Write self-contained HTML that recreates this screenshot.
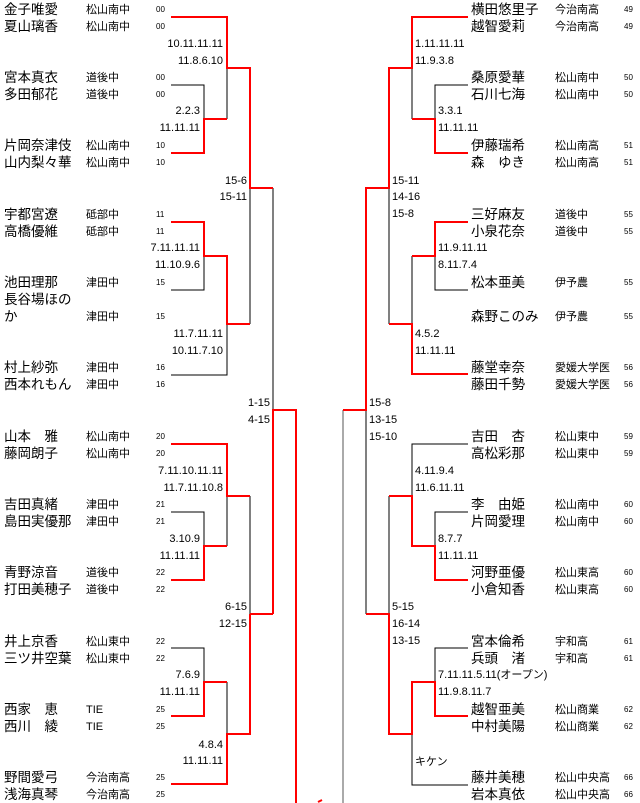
<!DOCTYPE html>
<html><head><meta charset="utf-8"><style>
body{margin:0;background:#fff;}
#w{position:relative;width:640px;height:803px;overflow:hidden;font-family:"Liberation Sans","Noto Sans CJK JP",sans-serif;color:#000;}
.t{position:absolute;white-space:nowrap;line-height:16px;height:16px;}
.n{font-size:13.5px;}
.s{font-size:11px;}
.k{font-size:8px;}
.c{font-size:11px;}
svg{position:absolute;left:0;top:0;}
</style></head><body><div id="w">
<svg width="640" height="803">
<g fill="none" stroke="#000" stroke-width="1">
<polyline points="171,85 204,85 204,119"/>
<polyline points="227,68 227,119"/>
<polyline points="250,188 250,324"/>
<polyline points="273,188 273,410"/>
<polyline points="204,256 204,290 171,290"/>
<polyline points="227,324 227,375 171,375"/>
<polyline points="171,512 204,512 204,546"/>
<polyline points="227,496 227,546"/>
<polyline points="250,496 250,614"/>
<polyline points="171,648 204,648 204,682"/>
<polyline points="227,682 227,734"/>
<polyline points="343,410 343,803" stroke="#555"/>
<polyline points="468,85 435,85 435,119"/>
<polyline points="412,68 412,119"/>
<polyline points="389,188 389,324"/>
<polyline points="435,256 435,290 468,290"/>
<polyline points="412,256 412,324"/>
<polyline points="366,410 366,614"/>
<polyline points="468,444 412,444 412,496"/>
<polyline points="468,512 435,512 435,546"/>
<polyline points="389,496 389,614"/>
<polyline points="468,648 435,648 435,682"/>
<polyline points="412,734 412,785 468,785"/>
</g>
<g fill="none" stroke="#f00" stroke-width="2">
<polyline points="171,17 227,17 227,68 250,68 250,188 273,188"/>
<polyline points="171,153 204,153 204,119 227,119"/>
<polyline points="171,222 204,222 204,256 227,256 227,324 250,324"/>
<polyline points="171,444 227,444 227,496 250,496"/>
<polyline points="171,580 204,580 204,546 227,546"/>
<polyline points="273,614 273,410 296,410 296,803"/>
<polyline points="250,614 273,614"/>
<polyline points="171,716 204,716 204,682 227,682"/>
<polyline points="171,784 227,784 227,734 250,734 250,614"/>
<polyline points="468,17 412,17 412,68 389,68 389,188 366,188 366,410 343,410"/>
<polyline points="468,153 435,153 435,119 412,119"/>
<polyline points="468,222 435,222 435,256 412,256"/>
<polyline points="468,374 412,374 412,324 389,324"/>
<polyline points="389,496 412,496 412,546 435,546 435,580 468,580"/>
<polyline points="366,614 389,614 389,734 412,734 412,682 435,682 435,716 468,716"/>
<polyline points="318,802 322,800"/>
</g>
</svg>

<!-- left names -->
<div class="t n" style="left:4px;top:2px">金子唯愛</div><div class="t s" style="left:86px;top:2px">松山南中</div><div class="t k" style="left:156px;top:2px">00</div>
<div class="t n" style="left:4px;top:19px">夏山璃香</div><div class="t s" style="left:86px;top:19px">松山南中</div><div class="t k" style="left:156px;top:19px">00</div>
<div class="t n" style="left:4px;top:70px">宮本真衣</div><div class="t s" style="left:86px;top:70px">道後中</div><div class="t k" style="left:156px;top:70px">00</div>
<div class="t n" style="left:4px;top:87px">多田郁花</div><div class="t s" style="left:86px;top:87px">道後中</div><div class="t k" style="left:156px;top:87px">00</div>
<div class="t n" style="left:4px;top:138px">片岡奈津伎</div><div class="t s" style="left:86px;top:138px">松山南中</div><div class="t k" style="left:156px;top:138px">10</div>
<div class="t n" style="left:4px;top:155px">山内梨々華</div><div class="t s" style="left:86px;top:155px">松山南中</div><div class="t k" style="left:156px;top:155px">10</div>
<div class="t n" style="left:4px;top:207px">宇都宮遼</div><div class="t s" style="left:86px;top:207px">砥部中</div><div class="t k" style="left:156px;top:207px">11</div>
<div class="t n" style="left:4px;top:224px">高橋優維</div><div class="t s" style="left:86px;top:224px">砥部中</div><div class="t k" style="left:156px;top:224px">11</div>
<div class="t n" style="left:4px;top:275px">池田理那</div><div class="t s" style="left:86px;top:275px">津田中</div><div class="t k" style="left:156px;top:275px">15</div>
<div class="t n" style="left:4px;top:292px">長谷場ほの</div>
<div class="t n" style="left:4px;top:309px">か</div><div class="t s" style="left:86px;top:309px">津田中</div><div class="t k" style="left:156px;top:309px">15</div>
<div class="t n" style="left:4px;top:360px">村上紗弥</div><div class="t s" style="left:86px;top:360px">津田中</div><div class="t k" style="left:156px;top:360px">16</div>
<div class="t n" style="left:4px;top:377px">西本れもん</div><div class="t s" style="left:86px;top:377px">津田中</div><div class="t k" style="left:156px;top:377px">16</div>
<div class="t n" style="left:4px;top:429px">山本　雅</div><div class="t s" style="left:86px;top:429px">松山南中</div><div class="t k" style="left:156px;top:429px">20</div>
<div class="t n" style="left:4px;top:446px">藤岡朗子</div><div class="t s" style="left:86px;top:446px">松山南中</div><div class="t k" style="left:156px;top:446px">20</div>
<div class="t n" style="left:4px;top:497px">吉田真緒</div><div class="t s" style="left:86px;top:497px">津田中</div><div class="t k" style="left:156px;top:497px">21</div>
<div class="t n" style="left:4px;top:514px">島田実優那</div><div class="t s" style="left:86px;top:514px">津田中</div><div class="t k" style="left:156px;top:514px">21</div>
<div class="t n" style="left:4px;top:565px">青野涼音</div><div class="t s" style="left:86px;top:565px">道後中</div><div class="t k" style="left:156px;top:565px">22</div>
<div class="t n" style="left:4px;top:582px">打田美穂子</div><div class="t s" style="left:86px;top:582px">道後中</div><div class="t k" style="left:156px;top:582px">22</div>
<div class="t n" style="left:4px;top:634px">井上京香</div><div class="t s" style="left:86px;top:634px">松山東中</div><div class="t k" style="left:156px;top:634px">22</div>
<div class="t n" style="left:4px;top:651px">三ツ井空葉</div><div class="t s" style="left:86px;top:651px">松山東中</div><div class="t k" style="left:156px;top:651px">22</div>
<div class="t n" style="left:4px;top:702px">西家　恵</div><div class="t s" style="left:86px;top:702px">TIE</div><div class="t k" style="left:156px;top:702px">25</div>
<div class="t n" style="left:4px;top:719px">西川　綾</div><div class="t s" style="left:86px;top:719px">TIE</div><div class="t k" style="left:156px;top:719px">25</div>
<div class="t n" style="left:4px;top:770px">野間愛弓</div><div class="t s" style="left:86px;top:770px">今治南高</div><div class="t k" style="left:156px;top:770px">25</div>
<div class="t n" style="left:4px;top:787px">浅海真琴</div><div class="t s" style="left:86px;top:787px">今治南高</div><div class="t k" style="left:156px;top:787px">25</div>

<!-- left scores -->
<div class="t c" style="right:417px;top:36px">10.11.11.11</div>
<div class="t c" style="right:417px;top:53px">11.8.6.10</div>
<div class="t c" style="right:440px;top:103px">2.2.3</div>
<div class="t c" style="right:440px;top:120px">11.11.11</div>
<div class="t c" style="right:393px;top:173px">15-6</div>
<div class="t c" style="right:393px;top:189px">15-11</div>
<div class="t c" style="right:440px;top:240px">7.11.11.11</div>
<div class="t c" style="right:440px;top:257px">11.10.9.6</div>
<div class="t c" style="right:417px;top:326px">11.7.11.11</div>
<div class="t c" style="right:417px;top:343px">10.11.7.10</div>
<div class="t c" style="right:370px;top:395px">1-15</div>
<div class="t c" style="right:370px;top:412px">4-15</div>
<div class="t c" style="right:417px;top:463px">7.11.10.11.11</div>
<div class="t c" style="right:417px;top:480px">11.7.11.10.8</div>
<div class="t c" style="right:440px;top:531px">3.10.9</div>
<div class="t c" style="right:440px;top:548px">11.11.11</div>
<div class="t c" style="right:393px;top:599px">6-15</div>
<div class="t c" style="right:393px;top:616px">12-15</div>
<div class="t c" style="right:440px;top:667px">7.6.9</div>
<div class="t c" style="right:440px;top:684px">11.11.11</div>
<div class="t c" style="right:417px;top:737px">4.8.4</div>
<div class="t c" style="right:417px;top:753px">11.11.11</div>

<!-- right names -->
<div class="t n" style="left:471px;top:2px">横田悠里子</div><div class="t s" style="left:555px;top:2px">今治南高</div><div class="t k" style="left:624px;top:2px">49</div>
<div class="t n" style="left:471px;top:19px">越智愛莉</div><div class="t s" style="left:555px;top:19px">今治南高</div><div class="t k" style="left:624px;top:19px">49</div>
<div class="t n" style="left:471px;top:70px">桑原愛華</div><div class="t s" style="left:555px;top:70px">松山南中</div><div class="t k" style="left:624px;top:70px">50</div>
<div class="t n" style="left:471px;top:87px">石川七海</div><div class="t s" style="left:555px;top:87px">松山南中</div><div class="t k" style="left:624px;top:87px">50</div>
<div class="t n" style="left:471px;top:138px">伊藤瑞希</div><div class="t s" style="left:555px;top:138px">松山南高</div><div class="t k" style="left:624px;top:138px">51</div>
<div class="t n" style="left:471px;top:155px">森　ゆき</div><div class="t s" style="left:555px;top:155px">松山南高</div><div class="t k" style="left:624px;top:155px">51</div>
<div class="t n" style="left:471px;top:207px">三好麻友</div><div class="t s" style="left:555px;top:207px">道後中</div><div class="t k" style="left:624px;top:207px">55</div>
<div class="t n" style="left:471px;top:224px">小泉花奈</div><div class="t s" style="left:555px;top:224px">道後中</div><div class="t k" style="left:624px;top:224px">55</div>
<div class="t n" style="left:471px;top:275px">松本亜美</div><div class="t s" style="left:555px;top:275px">伊予農</div><div class="t k" style="left:624px;top:275px">55</div>
<div class="t n" style="left:471px;top:309px">森野このみ</div><div class="t s" style="left:555px;top:309px">伊予農</div><div class="t k" style="left:624px;top:309px">55</div>
<div class="t n" style="left:471px;top:360px">藤堂幸奈</div><div class="t s" style="left:555px;top:360px">愛媛大学医</div><div class="t k" style="left:624px;top:360px">56</div>
<div class="t n" style="left:471px;top:377px">藤田千勢</div><div class="t s" style="left:555px;top:377px">愛媛大学医</div><div class="t k" style="left:624px;top:377px">56</div>
<div class="t n" style="left:471px;top:429px">吉田　杏</div><div class="t s" style="left:555px;top:429px">松山東中</div><div class="t k" style="left:624px;top:429px">59</div>
<div class="t n" style="left:471px;top:446px">高松彩那</div><div class="t s" style="left:555px;top:446px">松山東中</div><div class="t k" style="left:624px;top:446px">59</div>
<div class="t n" style="left:471px;top:497px">李　由姫</div><div class="t s" style="left:555px;top:497px">松山南中</div><div class="t k" style="left:624px;top:497px">60</div>
<div class="t n" style="left:471px;top:514px">片岡愛理</div><div class="t s" style="left:555px;top:514px">松山南中</div><div class="t k" style="left:624px;top:514px">60</div>
<div class="t n" style="left:471px;top:565px">河野亜優</div><div class="t s" style="left:555px;top:565px">松山東高</div><div class="t k" style="left:624px;top:565px">60</div>
<div class="t n" style="left:471px;top:582px">小倉知香</div><div class="t s" style="left:555px;top:582px">松山東高</div><div class="t k" style="left:624px;top:582px">60</div>
<div class="t n" style="left:471px;top:634px">宮本倫希</div><div class="t s" style="left:555px;top:634px">宇和高</div><div class="t k" style="left:624px;top:634px">61</div>
<div class="t n" style="left:471px;top:651px">兵頭　渚</div><div class="t s" style="left:555px;top:651px">宇和高</div><div class="t k" style="left:624px;top:651px">61</div>
<div class="t n" style="left:471px;top:702px">越智亜美</div><div class="t s" style="left:555px;top:702px">松山商業</div><div class="t k" style="left:624px;top:702px">62</div>
<div class="t n" style="left:471px;top:719px">中村美陽</div><div class="t s" style="left:555px;top:719px">松山商業</div><div class="t k" style="left:624px;top:719px">62</div>
<div class="t n" style="left:471px;top:770px">藤井美穂</div><div class="t s" style="left:555px;top:770px">松山中央高</div><div class="t k" style="left:624px;top:770px">66</div>
<div class="t n" style="left:471px;top:787px">岩本真依</div><div class="t s" style="left:555px;top:787px">松山中央高</div><div class="t k" style="left:624px;top:787px">66</div>

<!-- right scores -->
<div class="t c" style="left:415px;top:36px">1.11.11.11</div>
<div class="t c" style="left:415px;top:53px">11.9.3.8</div>
<div class="t c" style="left:438px;top:103px">3.3.1</div>
<div class="t c" style="left:438px;top:120px">11.11.11</div>
<div class="t c" style="left:392px;top:173px">15-11</div>
<div class="t c" style="left:392px;top:189px">14-16</div>
<div class="t c" style="left:392px;top:206px">15-8</div>
<div class="t c" style="left:438px;top:240px">11.9.11.11</div>
<div class="t c" style="left:438px;top:257px">8.11.7.4</div>
<div class="t c" style="left:415px;top:326px">4.5.2</div>
<div class="t c" style="left:415px;top:343px">11.11.11</div>
<div class="t c" style="left:369px;top:395px">15-8</div>
<div class="t c" style="left:369px;top:412px">13-15</div>
<div class="t c" style="left:369px;top:429px">15-10</div>
<div class="t c" style="left:415px;top:463px">4.11.9.4</div>
<div class="t c" style="left:415px;top:480px">11.6.11.11</div>
<div class="t c" style="left:438px;top:531px">8.7.7</div>
<div class="t c" style="left:438px;top:548px">11.11.11</div>
<div class="t c" style="left:392px;top:599px">5-15</div>
<div class="t c" style="left:392px;top:616px">16-14</div>
<div class="t c" style="left:392px;top:633px">13-15</div>
<div class="t c" style="left:438px;top:667px">7.11.11.5.11(オープン)</div>
<div class="t c" style="left:438px;top:684px">11.9.8.11.7</div>
<div class="t c" style="left:415px;top:754px">キケン</div>
</div></body></html>
